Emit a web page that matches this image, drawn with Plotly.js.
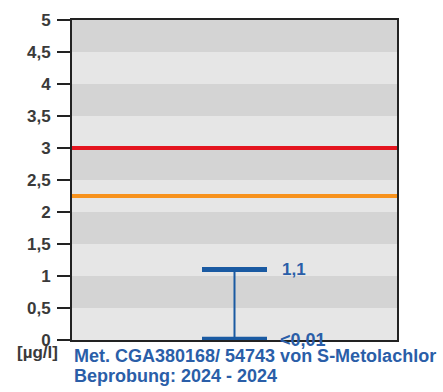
<!DOCTYPE html>
<html>
<head>
<meta charset="utf-8">
<script src="https://cdn.plot.ly/plotly-3.0.1.min.js"></script>
<style>html,body{margin:0;padding:0;background:#fff;}#chart{width:443px;height:392px;}</style>
</head>
<body>
<div id="chart"></div>
<script>
// Data
var yTicks = [0, 0.5, 1, 1.5, 2, 2.5, 3, 3.5, 4, 4.5, 5];
var yTickLabels = ["0", "0,5", "1", "1,5", "2", "2,5", "3", "3,5", "4", "4,5", "5"];
var limitValues = [3, 2.25];
var limitColors = ["#e4151f", "#f7921c"];
var measMin = 0.01;
var measMax = 1.1;
var measMinLabel = "<0,01";
var measMaxLabel = "1,1";
var unitLabel = "[µg/l]";
var captionLines = ["Met. CGA380168/ 54743 von S-Metolachlor", "Beprobung: 2024 - 2024"];

var blue = "#1a5aa2";
var textBlue = "#2a5ea8";
var fontFam = "Liberation Sans, Arial, sans-serif";

// background bands
var shapes = [];
for (var i = 0; i < yTicks.length - 1; i++) {
  shapes.push({
    type: "rect", xref: "paper", yref: "y", layer: "below",
    x0: 0, x1: 1, y0: yTicks[i], y1: yTicks[i + 1],
    fillcolor: (i % 2 === 0) ? "#e6e6e6" : "#d4d4d4",
    line: {width: 0}
  });
}

var traces = [];
// limit lines
limitValues.forEach(function (v, k) {
  traces.push({
    x: [0, 1], y: [v, v], mode: "lines", type: "scatter",
    line: {color: limitColors[k], width: 4}, hoverinfo: "skip", showlegend: false
  });
});
// range bar: vertical stem
var xc = 0.5, half = 0.1;
traces.push({
  x: [xc, xc], y: [measMin, measMax], mode: "lines", type: "scatter",
  line: {color: blue, width: 2}, showlegend: false, hoverinfo: "skip"
});
// caps
traces.push({
  x: [xc - half, xc + half, null, xc - half, xc + half],
  y: [measMax, measMax, null, measMin, measMin],
  mode: "lines", type: "scatter", connectgaps: false,
  line: {color: blue, width: 5}, showlegend: false, hoverinfo: "skip"
});

var annotations = [
  {x: xc + half, y: measMax, xref: "x", yref: "y", text: measMaxLabel, showarrow: false,
   xanchor: "left", yanchor: "middle", xshift: 13, font: {family: fontFam, size: 17, color: textBlue, weight: "bold"}},
  {x: xc + half, y: measMin, xref: "x", yref: "y", text: measMinLabel, showarrow: false,
   xanchor: "left", yanchor: "middle", xshift: 11, yshift: -1, font: {family: fontFam, size: 18, color: textBlue, weight: "bold"}},
  {x: 0, y: 0, xref: "paper", yref: "paper", text: unitLabel, showarrow: false,
   xanchor: "right", yanchor: "top", xshift: -12, yshift: -1, font: {family: fontFam, size: 17, color: "#3a3a3a", weight: "bold"}},
  {x: 0, y: 0, xref: "paper", yref: "paper", text: captionLines[0], showarrow: false,
   xanchor: "left", yanchor: "top", xshift: 0, yshift: -4, font: {family: fontFam, size: 18, color: textBlue, weight: "bold"}},
  {x: 0, y: 0, xref: "paper", yref: "paper", text: captionLines[1], showarrow: false,
   xanchor: "left", yanchor: "top", xshift: 0, yshift: -24, font: {family: fontFam, size: 18, color: textBlue, weight: "bold"}}
];

var layout = {
  width: 443, height: 392,
  margin: {l: 72, r: 46, t: 20, b: 52},
  paper_bgcolor: "#ffffff", plot_bgcolor: "#e6e6e6",
  showlegend: false,
  xaxis: {range: [0, 1], showgrid: false, zeroline: false, showticklabels: false, ticks: "",
          showline: true, mirror: true, linecolor: "#222", linewidth: 2, fixedrange: true},
  yaxis: {range: [0, 5], tickvals: yTicks, ticktext: yTickLabels, ticks: "outside", ticklen: 13, tickwidth: 2,
          tickcolor: "#222", showgrid: false, zeroline: false, showline: true, mirror: true,
          linecolor: "#222", linewidth: 2, ticklabelstandoff: 3,
          tickfont: {family: fontFam, size: 17, color: "#3a3a3a", weight: "bold"}, fixedrange: true},
  shapes: shapes,
  annotations: annotations
};

Plotly.newPlot("chart", traces, layout, {displayModeBar: false, staticPlot: true});
</script>
</body>
</html>
